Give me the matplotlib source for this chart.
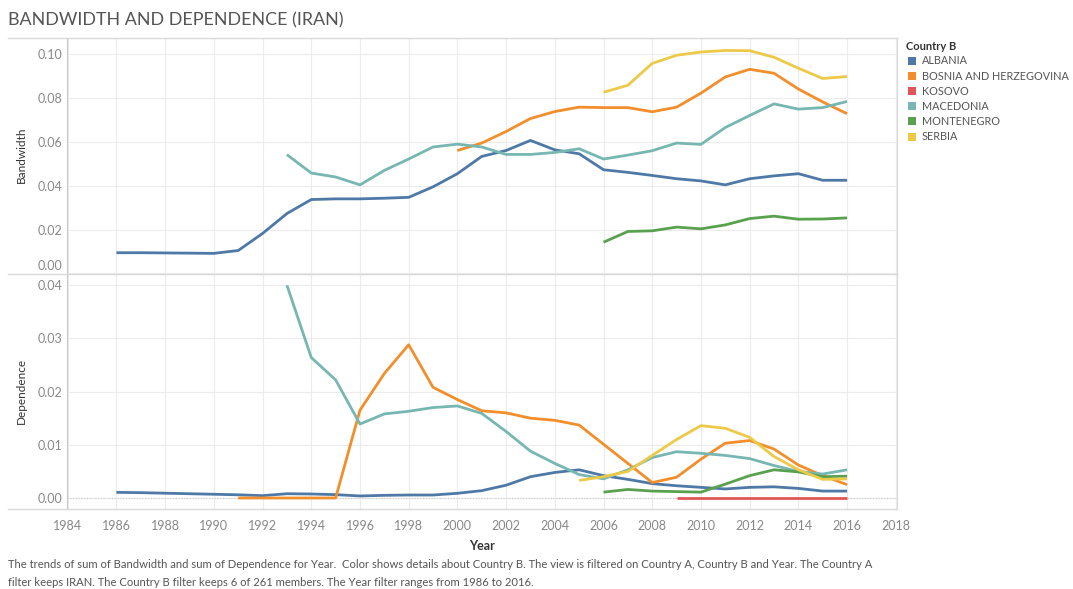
import matplotlib
matplotlib.use("Agg")
import matplotlib.pyplot as plt
from matplotlib.patches import Rectangle
from matplotlib.lines import Line2D

plt.rcParams["font.family"] = ["Lato", "DejaVu Sans"]

W, H = 1073, 589

# Data
countries = ["ALBANIA", "BOSNIA AND HERZEGOVINA", "KOSOVO", "MACEDONIA", "MONTENEGRO", "SERBIA"]
colors = ["#4e79a7", "#f28e2b", "#e15759", "#76b7b2", "#59a14f", "#edc948"]

albania_years = list(range(1986, 2017))
albania_bw = [0.0094, 0.0094, 0.0093, 0.0092, 0.0091, 0.0104, 0.0182, 0.0273, 0.0337, 0.0340,
              0.0340, 0.0343, 0.0347, 0.0395, 0.0455, 0.0534, 0.0561, 0.0607, 0.0564, 0.0546,
              0.0473, 0.0461, 0.0447, 0.0432, 0.0422, 0.0404, 0.0432, 0.0445, 0.0455, 0.0425, 0.0425]
albania_dep = [0.00106, 0.0010, 0.0009, 0.0008, 0.0007, 0.0006, 0.00044, 0.0008, 0.00075, 0.00063,
               0.00038, 0.0005, 0.00056, 0.00056, 0.00088, 0.00138, 0.0024, 0.0040, 0.0048, 0.0053,
               0.0042, 0.0035, 0.0027, 0.0023, 0.0020, 0.0017, 0.0020, 0.0021, 0.0018, 0.0013, 0.0013]

bosnia_bw_years = list(range(2000, 2017))
bosnia_bw = [0.0561, 0.0595, 0.0648, 0.0707, 0.0739, 0.0759, 0.0757, 0.0757, 0.0738, 0.0759,
             0.0823, 0.0897, 0.0932, 0.0914, 0.0842, 0.0783, 0.0729]
bosnia_dep_years = list(range(1991, 2017))
bosnia_dep = [0.0, 0.0, 0.0, 0.0, 0.0, 0.0165, 0.0234, 0.0288, 0.0208, 0.0185,
              0.0164, 0.0160, 0.0150, 0.0146, 0.0137, 0.0101, 0.0065, 0.0029, 0.0039, 0.0073,
              0.0103, 0.0108, 0.0092, 0.0062, 0.0042, 0.0025]

kosovo_dep_years = list(range(2009, 2017))
kosovo_dep = [0.0, 0.0, 0.0, 0.0, 0.0, 0.0, 0.0, 0.0]

macedonia_years = list(range(1993, 2017))
macedonia_bw = [0.0542, 0.0458, 0.0440, 0.0404, 0.0470, 0.0522, 0.0577, 0.0590, 0.0577, 0.0543,
                0.0543, 0.0552, 0.0569, 0.0522, 0.0540, 0.0560, 0.0595, 0.0589, 0.0666, 0.0721,
                0.0774, 0.0750, 0.0757, 0.0785]
macedonia_dep = [0.0400, 0.0264, 0.0222, 0.0139, 0.0158, 0.0163, 0.0170, 0.0173, 0.0159, 0.0125,
                 0.0088, 0.0065, 0.0044, 0.0036, 0.0053, 0.0076, 0.0087, 0.0084, 0.0080, 0.0074,
                 0.0061, 0.0050, 0.0045, 0.0053]

montenegro_years = list(range(2006, 2017))
montenegro_bw = [0.0142, 0.0191, 0.0194, 0.0211, 0.0203, 0.0221, 0.0250, 0.0261, 0.0247, 0.0248, 0.0253]
montenegro_dep = [0.0011, 0.0016, 0.0013, 0.0012, 0.0011, 0.0026, 0.0042, 0.0053, 0.0049, 0.0040, 0.0041]

serbia_bw_years = list(range(2006, 2017))
serbia_bw = [0.0827, 0.0859, 0.0959, 0.0996, 0.1011, 0.1018, 0.1017, 0.0987, 0.0937, 0.0890, 0.0899]
serbia_dep_years = list(range(2005, 2017))
serbia_dep = [0.0033, 0.0040, 0.0050, 0.0080, 0.0110, 0.0136, 0.0131, 0.0114, 0.0078, 0.0053, 0.0035, 0.0036]

bw_series = [
    (albania_years, albania_bw, 0),
    (bosnia_bw_years, bosnia_bw, 1),
    (macedonia_years, macedonia_bw, 3),
    (montenegro_years, montenegro_bw, 4),
    (serbia_bw_years, serbia_bw, 5),
]
dep_series = [
    (albania_years, albania_dep, 0),
    (bosnia_dep_years, bosnia_dep, 1),
    (kosovo_dep_years, kosovo_dep, 2),
    (macedonia_years, macedonia_dep, 3),
    (montenegro_years, montenegro_dep, 4),
    (serbia_dep_years, serbia_dep, 5),
]

bw_ticks = [0.0, 0.02, 0.04, 0.06, 0.08, 0.10]
dep_ticks = [0.0, 0.01, 0.02, 0.03, 0.04]
year_ticks = list(range(1984, 2019, 2))

fig = plt.figure(figsize=(W / 100, H / 100), dpi=100)


def px_axes(x0, y0, x1, y1):
    return fig.add_axes([x0 / W, 1 - y1 / H, (x1 - x0) / W, (y1 - y0) / H])


ax1 = px_axes(67, 38, 897, 273.5)
ax2 = px_axes(67, 273.5, 897, 509)

tick_col = "#888888"
grid_col = "#ececec"

for ax in (ax1, ax2):
    ax.set_xlim(1983.97, 2018.05)
    ax.set_xticks(year_ticks)
    ax.grid(True, color=grid_col, lw=0.8)
    ax.set_axisbelow(True)
    for s in ["top", "bottom"]:
        ax.spines[s].set_visible(False)
    ax.spines["right"].set_color("#d9d9d9")
    ax.spines["left"].set_color("#c8c8c8")
    ax.tick_params(axis="both", length=0, colors=tick_col, labelsize=9)

# Bandwidth panel
for xs, ys, ci in bw_series:
    ax1.plot(xs, ys, color=colors[ci], lw=2, solid_capstyle="butt")
ax1.set_ylim(-0.0001, 0.1075)
ax1.set_yticks(bw_ticks)
ax1.set_yticklabels(["", "0.02", "0.04", "0.06", "0.08", "0.10"])
ax1.annotate("0.00", xy=(0, 0), xycoords=("axes fraction", "data"), xytext=(-3.5, 5),
             textcoords="offset points", ha="right", va="center", fontsize=9, color=tick_col)
ax1.tick_params(axis="x", labelbottom=False)

# Dependence panel
for xs, ys, ci in dep_series:
    ax2.plot(xs, ys, color=colors[ci], lw=2, solid_capstyle="butt", zorder=3)
ax2.axhline(0, color="#cccccc", lw=0.8, ls=(0, (1, 1.5)), zorder=1)
ax2.set_ylim(-0.00207, 0.0422)
ax2.set_yticks(dep_ticks)
ax2.set_yticklabels(["0.00", "0.01", "0.02", "0.03", "0.04"])
ax2.tick_params(axis="x", pad=8)
ax2.set_xlabel("Year", fontsize=9, color="#333333", fontweight="bold", labelpad=6)

# axis titles
fig.text(21 / W, 1 - 155 / H, "Bandwidth", rotation=90, fontsize=8.5, color="#333333",
         ha="center", va="center")
fig.text(21 / W, 1 - 391 / H, "Dependence", rotation=90, fontsize=8.5, color="#333333",
         ha="center", va="center")

# frame lines stretching to the left
for yy in (38, 273.5, 509):
    fig.add_artist(Line2D([8 / W, 897 / W], [1 - yy / H, 1 - yy / H], transform=fig.transFigure,
                          color="#d9d9d9", lw=1))

# Title
fig.text(8 / W, 1 - 20 / H, "BANDWIDTH AND DEPENDENCE (IRAN)", fontsize=12.9, color="#555555",
         ha="left", va="center")

# Legend
fig.text(906 / W, 1 - 46 / H, "Country B", fontsize=8, fontweight="bold", color="#333333",
         ha="left", va="center")
for i, (name, c) in enumerate(zip(countries, colors)):
    yc = 61 + i * 15.1
    fig.add_artist(Rectangle((907.5 / W, 1 - (yc + 4) / H), 8 / W, 8 / H,
                             transform=fig.transFigure, color=c, lw=0))
    fig.text(922 / W, 1 - yc / H, name, fontsize=7.8, color="#555555", ha="left", va="center")

# Footnote
note1 = ("The trends of sum of Bandwidth and sum of Dependence for Year.  Color shows details about Country B. "
         "The view is filtered on Country A, Country B and Year. The Country A")
note2 = "filter keeps IRAN. The Country B filter keeps 6 of 261 members. The Year filter ranges from 1986 to 2016."
fig.text(8 / W, 1 - 565 / H, note1, fontsize=8.1, color="#555555", ha="left", va="center")
fig.text(8 / W, 1 - 582 / H, note2, fontsize=8.1, color="#555555", ha="left", va="center")

fig.savefig("out.png", dpi=100)
